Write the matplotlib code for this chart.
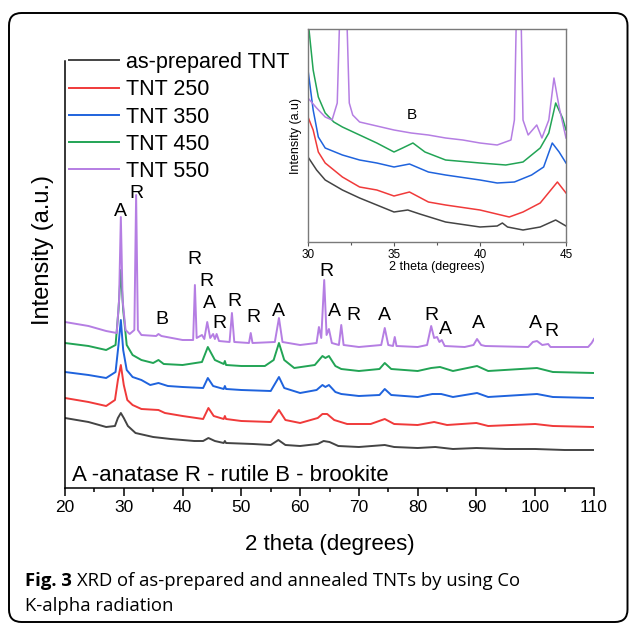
import matplotlib
matplotlib.use("Agg")
import matplotlib.pyplot as plt
from matplotlib.patches import FancyBboxPatch
from matplotlib.ticker import MultipleLocator

plt.rcParams['font.family'] = ['Liberation Sans', 'DejaVu Sans']

# ---------------- data (main pattern, 2theta in degrees, intensity a.u.) -------------
labels = ["as-prepared TNT", "TNT 250", "TNT 350", "TNT 450", "TNT 550"]
colors = ["#444444", "#f03a3a", "#1f63dd", "#22a455", "#b57ee3"]

x_asprep = [20, 24, 27, 28.5, 29.0, 29.5, 30.0, 30.7, 32, 35, 38, 42, 43.5, 44.4, 45.5, 47.0, 47.2, 47.4,
            52, 55, 56.3, 57.5, 60, 63, 64, 65, 66.5, 70, 74.4, 76, 80, 83, 86, 90, 95, 100, 105, 110]
y_asprep = [70, 66, 61, 62, 70, 75, 70, 62, 55, 51, 49, 47, 47, 50, 47, 45, 47, 45,
            44, 43, 48, 43, 42, 44, 47, 46, 42, 41, 43, 41, 40, 41, 39, 40, 39, 39, 38, 38]

x_250 = [20, 24, 27, 28.5, 29.0, 29.5, 30.0, 30.6, 31.5, 33, 35.9, 37, 40, 43.5, 44.4, 45.3, 47.0, 47.2, 47.4,
         50, 55, 56.4, 57.5, 60, 63, 63.8, 64.6, 65.8, 68, 72, 74.4, 76, 80, 82.8, 85, 90, 92, 100, 103, 110]
y_250 = [90, 86, 82, 88, 108, 123, 103, 88, 83, 79, 78, 75, 72, 69, 80, 72, 69, 72, 69,
         67, 66, 78, 68, 65, 70, 74, 74, 68, 64, 64, 69, 64, 63, 66, 63, 65, 62, 64, 62, 61]

x_350 = [20, 24, 27, 28.6, 29.1, 29.5, 29.9, 30.5, 31.5, 33, 34.5, 35.9, 37.5, 40, 43.5, 44.3, 45.2, 47.0, 47.2, 47.4,
         50, 55, 56.4, 57.3, 60, 62.8, 63.8, 64.3, 64.9, 66, 67, 70, 73.5, 74.4, 75.5, 80, 82.5, 84, 86, 90.1, 92,
         100.3, 103, 110]
y_350 = [116, 113, 110, 116, 143, 168, 138, 118, 111, 108, 103, 105, 102, 101, 100, 110, 102, 99, 102, 99,
         98, 97, 111, 100, 95, 98, 103, 101, 103, 96, 94, 92, 93, 99, 93, 91, 94, 94, 91, 95, 91,
         94, 91, 90]

x_450 = [20, 24, 27, 28.6, 29.1, 29.5, 29.9, 30.5, 31.5, 33, 35, 35.9, 36.8, 40, 43.3, 44.3, 45.5, 47.0, 47.2, 47.4,
         50, 54, 55.5, 56.4, 57.3, 59, 62.5, 63.8, 64.3, 64.9, 66, 67, 70, 73.5, 74.4, 75.5, 80, 82.3, 83.8, 86,
         90.1, 92, 100.3, 103, 110]
y_450 = [145, 142, 138, 143, 178, 218, 178, 143, 133, 128, 125, 128, 124, 123, 126, 141, 128, 124, 127, 123,
         122, 122, 128, 145, 128, 120, 123, 132, 130, 132, 122, 119, 117, 119, 125, 119, 117, 120, 121, 117,
         122, 117, 120, 116, 115]

x_550 = [20, 24, 27, 28.8, 29.2, 29.5, 29.8, 30.3, 31.0, 31.8, 32.1, 32.4, 33, 35.5, 35.9, 36.4, 40, 41.8, 42.1,
         42.4, 43.3, 43.7, 44.2, 44.7, 45.2, 45.5, 45.8, 46.2, 48.0, 48.4, 48.8, 51.3, 51.6, 51.9, 55.7, 56.4,
         57.0, 60, 62.8, 63.2, 63.6, 64.1, 64.5, 64.9, 65.4, 66.6, 67.0, 67.4, 70, 73.8, 74.4, 75.0, 75.8, 76.1,
         76.4, 80, 81.6, 82.3, 82.8, 83.3, 83.7, 84.1, 84.6, 88, 89.5, 90.1, 90.8, 91.5, 98.8, 99.6, 100.3,
         101.2, 102.2, 102.6, 109.0, 109.6, 110]
y_550 = [166, 162, 157, 155, 188, 271, 188, 158, 154, 158, 293, 158, 153, 152, 154, 152, 148, 148, 203,
         150, 153, 149, 166, 150, 154, 149, 154, 147, 146, 175, 146, 145, 155, 145, 146, 170,
         146, 143, 145, 161, 150, 208, 153, 159, 145, 143, 163, 143, 141, 143, 160, 143, 142, 151,
         142, 141, 143, 162, 150, 151, 146, 148, 142, 141, 143, 149, 143, 142, 141, 146, 147,
         143, 144, 141, 141, 145, 149]

# phase labels: (letter, 2theta, height)
peak_letters = ["A", "R", "B", "R", "R", "A", "R", "R", "R", "A", "R", "A", "R", "A", "R", "A", "A", "A", "R"]
peak_x = [29.5, 32.2, 36.5, 42.1, 44.0, 44.5, 46.2, 48.8, 52.0, 56.4, 64.4, 65.9, 69.0, 74.4, 82.3, 84.8,
          90.3, 100.0, 102.7]
peak_y = [276, 295, 169, 228, 206, 184, 165, 186, 171, 177, 216, 176, 172, 172, 173, 159, 165, 165, 156]

# ---------------- inset data (30-45 degrees, expanded intensity scale) ----------------
xi_asprep = [30, 30.5, 31, 32, 33, 34, 35, 35.8, 36.5, 38, 40, 41, 41.3, 41.6, 42.5, 43.5, 44.4, 45]
yi_asprep = [85, 72, 62, 52, 44, 37, 30, 32, 28, 20, 15, 16, 19, 15, 12, 15, 22, 16]

xi_250 = [30, 30.3, 30.6, 31, 32, 33, 34, 35, 35.9, 37, 38, 40, 41.7, 42.5, 43.5, 44.5, 45]
yi_250 = [125, 112, 90, 79, 65, 55, 52, 46, 50, 40, 37, 32, 25, 30, 39, 60, 49]

xi_350 = [30, 30.3, 30.6, 31, 32, 33, 34, 35, 35.9, 37, 38, 40, 41, 42, 43, 43.7, 44.2, 44.6, 45]
yi_350 = [172, 132, 105, 94, 87, 82, 79, 75, 78, 70, 67, 62, 59, 60, 67, 75, 99, 90, 79]

xi_450 = [30, 30.3, 30.6, 31, 31.5, 32, 33, 34, 35, 35.5, 36.1, 36.8, 38, 40, 41.5, 42.5, 43.5, 44.0, 44.4,
          44.8, 45]
yi_450 = [222, 172, 145, 129, 120, 115, 107, 99, 90, 94, 99, 90, 82, 79, 77, 80, 94, 109, 139, 124, 112]

xi_550 = [30, 30.5, 31, 31.4, 31.7, 31.9, 32.2, 32.4, 32.6, 33, 34, 35, 36, 37, 38, 39, 40, 41, 41.8, 42.0,
          42.15, 42.35, 42.5, 42.8, 43.3, 43.6, 44.0, 44.3, 44.6, 45]
yi_550 = [144, 134, 125, 122, 139, 260, 260, 139, 127, 120, 116, 112, 109, 107, 104, 102, 99, 97, 102, 122,
          260, 260, 122, 107, 117, 104, 122, 164, 135, 104]

main_x = [x_asprep, x_250, x_350, x_450, x_550]
main_y = [y_asprep, y_250, y_350, y_450, y_550]
inset_x = [xi_asprep, xi_250, xi_350, xi_450, xi_550]
inset_y = [yi_asprep, yi_250, yi_350, yi_450, yi_550]

# ---------------- figure ----------------
W, H = 629, 624
fig = plt.figure(figsize=(W / 100, H / 100), dpi=100)

def px_rect(x0, y0, x1, y1):
    return [x0 / W, 1 - y1 / H, (x1 - x0) / W, (y1 - y0) / H]

# outer rounded frame
frame = FancyBboxPatch((9 / W, 2 / H), (627.5 - 9) / W, (611 - 2) / H,
                       boxstyle="round,pad=0,rounding_size=0.02", transform=fig.transFigure,
                       fill=False, edgecolor="black", linewidth=1.4, clip_on=False)
fig.patches.append(frame)

ax = fig.add_axes(px_rect(65, 61, 594, 488))
for xs, ys, c, lab in zip(main_x, main_y, colors, labels):
    ax.plot(xs, ys, color=c, lw=1.4, label=lab)
ax.set_xlim(20, 110)
ax.set_ylim(0, 427)
ax.spines['top'].set_visible(False)
ax.spines['right'].set_visible(False)
for s in ['left', 'bottom']:
    ax.spines[s].set_linewidth(1.1)
ax.set_yticks([])
ax.xaxis.set_major_locator(MultipleLocator(10))
ax.xaxis.set_minor_locator(MultipleLocator(5))
ax.tick_params(axis='x', which='major', direction='out', length=6, width=1.1, labelsize=12.5, pad=3)
ax.tick_params(axis='x', which='minor', direction='out', length=3, width=1.1)
ax.set_xlabel("2 theta (degrees)", fontsize=16, labelpad=13)
ax.set_ylabel("Intensity (a.u.)", fontsize=17)
ax.yaxis.set_label_coords(-0.021, 0.557)

for t, px_, py_ in zip(peak_letters, peak_x, peak_y):
    ax.text(px_, py_, t, fontsize=14, ha='center', va='center')

ax.text(0.013, 0.03, "A -anatase R - rutile B - brookite", transform=ax.transAxes,
        fontsize=16, ha='left', va='center')

leg = ax.legend(loc='upper left', bbox_to_anchor=(0.0076, 1.021), bbox_transform=ax.transAxes,
                borderpad=0, borderaxespad=0, handlelength=2.3, handletextpad=0.33,
                labelspacing=0.29, frameon=False, fontsize=15.5)

# inset
axi = fig.add_axes(px_rect(308, 29, 566, 242))
for xs, ys, c in zip(inset_x, inset_y, colors):
    axi.plot(xs, ys, color=c, lw=1.1)
axi.set_xlim(30, 45)
axi.set_ylim(0, 213)
axi.set_yticks([])
axi.xaxis.set_major_locator(MultipleLocator(5))
axi.xaxis.set_minor_locator(MultipleLocator(2.5))
for s in axi.spines.values():
    s.set_color("#7a7a7a")
    s.set_linewidth(1.0)
axi.tick_params(axis='x', which='major', direction='out', length=3, width=0.8, colors="#555555",
                labelcolor="black", labelsize=8.5, pad=2)
axi.tick_params(axis='x', which='minor', direction='out', length=2, width=0.8, colors="#555555")
axi.set_xlabel("2 theta (degrees)", fontsize=9, labelpad=0)
axi.set_ylabel("Intensity (a.u)", fontsize=9, labelpad=4)
axi.text(36.05, 127, "B", fontsize=11, ha='center', va='center')

# caption
cap_font = ['Open Sans', 'DejaVu Sans']
fig.text(25 / W, 1 - 581 / H, "Fig. 3", fontsize=13.3, fontweight='bold', family=cap_font,
         ha='left', va='center')
fig.text(25 / W, 1 - 606 / H, "K-alpha radiation", fontsize=13.3, family=cap_font,
         ha='left', va='center')
fig.canvas.draw()
r = fig.texts[0].get_window_extent()
fig.text((r.x1 + 5) / W, 1 - 581 / H, "XRD of as-prepared and annealed TNTs by using Co", fontsize=13.3,
         family=cap_font, ha='left', va='center')

fig.savefig("out.png", dpi=100)
